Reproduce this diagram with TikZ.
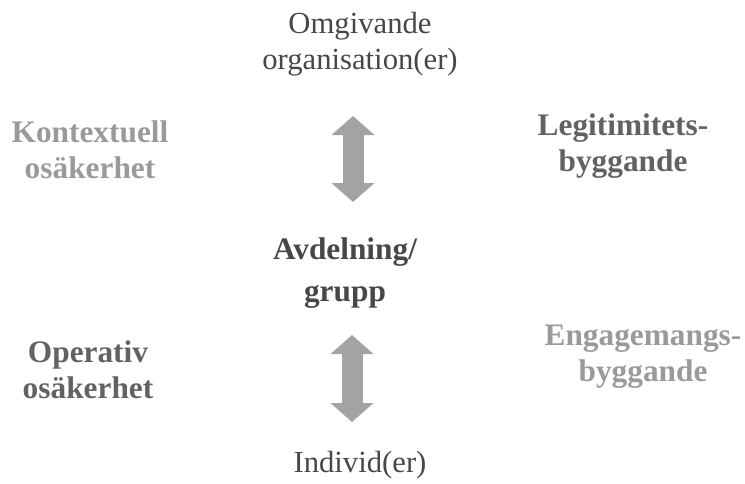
\documentclass[tikz,border=0pt]{standalone}
\usepackage{fontspec}
\setmainfont{Liberation Serif}
\usetikzlibrary{arrows.meta}
\definecolor{lightgr}{HTML}{9A9A9A}
\definecolor{darkgr}{HTML}{626262}
\definecolor{textgr}{HTML}{474747}
\definecolor{arrowgr}{HTML}{A3A3A3}
\begin{document}
\begin{tikzpicture}[x=0.75pt, y=-0.75pt,
  lbl/.style={align=center, inner sep=0pt, font=\fontsize{23pt}{26.5pt}\selectfont},
  boldlbl/.style={lbl, font=\fontsize{23.5pt}{27pt}\selectfont\bfseries},
  bigarrow/.style={line width=15.75pt, draw=arrowgr,
    {Triangle[width=31.5pt, length=14.25pt]}-{Triangle[width=31.5pt, length=14.25pt]}}]
  \useasboundingbox (0, 0) rectangle (745, 483);

  % Levels (centre column)
  \node[lbl, text=textgr] (org) at (360, 44) {Omgivande\\organisation(er)};
  \node[boldlbl, text=textgr, font=\fontsize{23.5pt}{31pt}\selectfont\bfseries] (avd) at (345, 273) {Avdelning/\\grupp};
  \node[lbl, text=textgr] (individ) at (360, 465) {Individ(er)};

  % Uncertainty (left)
  \node[boldlbl, text=lightgr] (kontext) at (90, 150) {Kontextuell\\osäkerhet};
  \node[boldlbl, text=darkgr] (operativ) at (88, 370) {Operativ\\osäkerhet};

  % Building (right)
  \node[boldlbl, text=darkgr] (legit) at (623, 146) {Legitimitets-\\byggande};
  \node[boldlbl, text=lightgr] (engag) at (643, 357) {Engagemangs-\\byggande};

  % Double arrows
  \coordinate (upTop) at (353, 116);
  \coordinate (upBot) at (353, 202);
  \coordinate (lowTop) at (352, 335);
  \coordinate (lowBot) at (352, 422);
  \draw[bigarrow] (upTop) -- (upBot);
  \draw[bigarrow] (lowTop) -- (lowBot);
\end{tikzpicture}
\end{document}
